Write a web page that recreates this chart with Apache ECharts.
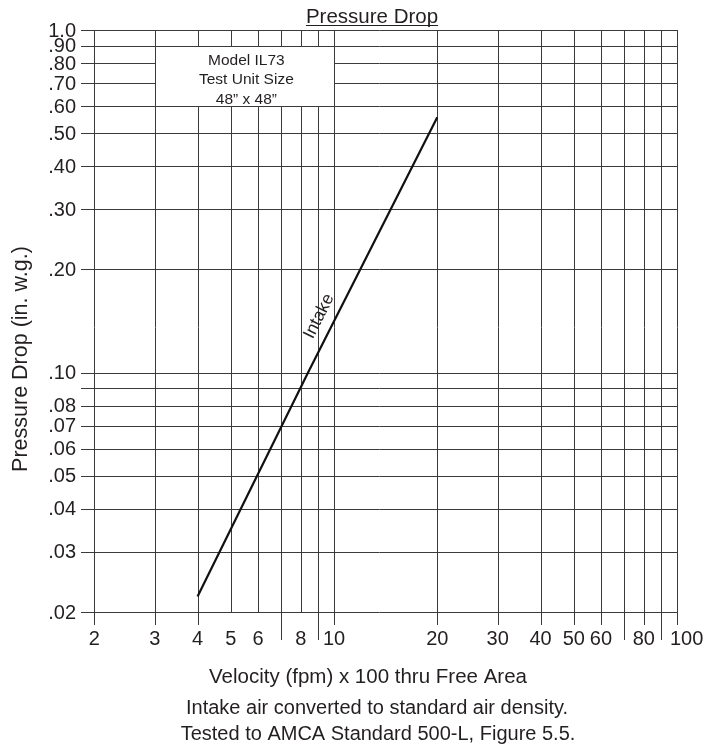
<!DOCTYPE html>
<html><head><meta charset="utf-8">
<script src="https://cdn.jsdelivr.net/npm/echarts@6/dist/echarts.min.js"></script>
<style>html,body{margin:0;padding:0;background:#fff}#c{width:705px;height:749px}</style>
</head><body><div id="c"></div>
<script>
// ---- data ----
const xMin = 1.829, xMax = 100;
const yMin = 0.02, yMax = 1.0;
const xGridValues = [2,3,4,5,6,7,8,9,10,20,30,40,50,60,70,80,90,100];
const xLabelValues = [2,3,4,5,6,8,10,20,30,40,50,60,80,100];
const xLongTicks = [7,9,70,90];
const xNoTicks = [5,6,8];
const yGridValues = [0.02,0.03,0.04,0.05,0.06,0.07,0.08,0.09,0.1,0.2,0.3,0.4,0.5,0.6,0.7,0.8,0.9,1.0];
const yLabelValues = [0.02,0.03,0.04,0.05,0.06,0.07,0.08,0.1,0.2,0.3,0.4,0.5,0.6,0.7,0.8,0.9,1.0];
const yLabelTexts  = ['.02','.03','.04','.05','.06','.07','.08','.10','.20','.30','.40','.50','.60','.70','.80','.90','1.0'];
const intakeVelocity = [4, 8.4, 20];
const intakePressure = [0.0222, 0.1, 0.556];
const intakeLabelAt = [9.05, 0.146];
const modelBoxX = [3, 10];
const modelBoxY = [0.6, 0.9];
const modelBoxLines = ['Model IL73', 'Test Unit Size', '48\u201D x 48\u201D'];
const titleText = 'Pressure Drop';
const xName = 'Velocity (fpm) x 100 thru Free Area';
const yName = 'Pressure Drop (in. w.g.)';
const notes = ['Intake air converted to standard air density.', 'Tested to AMCA Standard 500-L, Figure 5.5.'];

// ---- styles ----
const FONT = 'Liberation Sans, Arial, Helvetica, sans-serif';
const TXT = '#231f20';
const GRID = '#3a3a3a';

const chart = echarts.init(document.getElementById('c'), null, {renderer: 'canvas'});
const px = v => Math.round(v) + 0.5;

function xGridItem(params, api) {
  const v = api.value(0);
  const top = api.coord([v, yMax]);
  const bot = api.coord([v, yMin]);
  let ext = 13;
  if (xLongTicks.indexOf(v) >= 0) ext = 28;
  else if (xNoTicks.indexOf(v) >= 0) ext = 0;
  const x = px(top[0]);
  const children = [{
    type: 'line',
    shape: {x1: x, y1: Math.round(top[1]), x2: x, y2: Math.round(bot[1]) + ext},
    style: {stroke: GRID, lineWidth: 1}
  }];
  if (xLabelValues.indexOf(v) >= 0) {
    const last = v === xMax;
    children.push({
      type: 'text',
      style: {text: String(v), x: last ? top[0] - 7 : top[0], y: bot[1] + 27,
              align: last ? 'left' : 'center', verticalAlign: 'middle',
              fontSize: 20, fontFamily: FONT, fill: TXT}
    });
  }
  return {type: 'group', children};
}

function yGridItem(params, api) {
  const v = api.value(1);
  const l = api.coord([xMin, v]);
  const r = api.coord([xMax, v]);
  const y = px(l[1]);
  const children = [{
    type: 'line',
    shape: {x1: Math.round(l[0]), y1: y, x2: Math.round(r[0]) + 1, y2: y},
    style: {stroke: GRID, lineWidth: 1}
  }];
  const i = yLabelValues.indexOf(v);
  if (i >= 0) {
    children.push({
      type: 'text',
      style: {text: yLabelTexts[i], x: l[0] - 5, y: l[1] + 1, align: 'right', verticalAlign: 'middle',
              fontSize: 20, fontFamily: FONT, fill: TXT}
    });
  }
  return {type: 'group', children};
}

function boxItem(params, api) {
  const a = api.coord([modelBoxX[0], modelBoxY[1]]);
  const b = api.coord([modelBoxX[1], modelBoxY[0]]);
  const x0 = px(a[0]), y0 = px(a[1]), x1 = px(b[0]), y1 = px(b[1]);
  return {type: 'group', children: [
    {type: 'rect', shape: {x: x0, y: y0, width: x1 - x0, height: y1 - y0},
     style: {fill: '#fff', stroke: GRID, lineWidth: 1}},
    {type: 'text', style: {text: modelBoxLines.join('\n'), x: (a[0] + b[0]) / 2 + 2, y: (a[1] + b[1]) / 2 + 4,
      align: 'center', verticalAlign: 'middle', lineHeight: 19.5, fontSize: 15.5, fontFamily: FONT, fill: TXT}}
  ]};
}

function intakeLabelItem(params, api) {
  const p = api.coord([api.value(0), api.value(1)]);
  const p1 = api.coord([intakeVelocity[0], intakePressure[0]]);
  const p2 = api.coord([intakeVelocity[intakeVelocity.length - 1], intakePressure[intakePressure.length - 1]]);
  const ang = Math.atan2(-(p2[1] - p1[1]), p2[0] - p1[0]);
  return {type: 'text', x: p[0], y: p[1], rotation: ang,
    style: {text: 'Intake', x: 0, y: 0, align: 'center', verticalAlign: 'middle',
            fontSize: 17.5, fontFamily: FONT, fill: TXT}};
}

// measure title width for underline
const mctx = document.createElement('canvas').getContext('2d');
mctx.font = '20.5px ' + FONT;
const titleW = mctx.measureText(titleText).width;
const titleCX = 372;

chart.setOption({
  animation: false,
  backgroundColor: '#fff',
  grid: {left: 81, right: 28, top: 30, bottom: 137, containLabel: false},
  xAxis: {type: 'log', logBase: 10, min: xMin, max: xMax,
    axisLine: {show: false}, axisTick: {show: false}, axisLabel: {show: false}, splitLine: {show: false}},
  yAxis: {type: 'log', logBase: 10, min: yMin, max: yMax,
    axisLine: {show: false}, axisTick: {show: false}, axisLabel: {show: false}, splitLine: {show: false}},
  series: [
    {type: 'custom', name: 'xgrid', renderItem: xGridItem, z: 1, silent: true, clip: false,
     data: xGridValues.map(v => [v, yMin])},
    {type: 'custom', name: 'ygrid', renderItem: yGridItem, z: 1, silent: true, clip: false,
     data: yGridValues.map(v => [xMin, v])},
    {type: 'custom', name: 'box', renderItem: boxItem, z: 3, silent: true, clip: false,
     data: [[modelBoxX[0], modelBoxY[0]]]},
    {type: 'line', name: 'Intake', z: 4, silent: true, symbol: 'none',
     lineStyle: {color: '#111', width: 2.2},
     data: intakeVelocity.map((v, i) => [v, intakePressure[i]])},
    {type: 'custom', name: 'intakeLabel', renderItem: intakeLabelItem, z: 5, silent: true, clip: false,
     data: [intakeLabelAt]}
  ],
  graphic: [
    {type: 'text', x: titleCX, y: 17,
     style: {text: titleText, align: 'center', verticalAlign: 'middle', fontSize: 20.5, fontFamily: FONT, fill: TXT}},
    {type: 'line', shape: {x1: titleCX - titleW / 2, y1: 25.5, x2: titleCX + titleW / 2, y2: 25.5},
     style: {stroke: TXT, lineWidth: 1.2}},
    {type: 'text', x: 368, y: 677,
     style: {text: xName, align: 'center', verticalAlign: 'middle', fontSize: 20.5, fontFamily: FONT, fill: TXT}},
    {type: 'text', x: 21, y: 359, rotation: Math.PI / 2,
     style: {text: yName, align: 'center', verticalAlign: 'middle', fontSize: 21.5, fontFamily: FONT, fill: TXT}},
    {type: 'text', x: 377, y: 708,
     style: {text: notes[0], align: 'center', verticalAlign: 'middle', fontSize: 20, fontFamily: FONT, fill: TXT}},
    {type: 'text', x: 378, y: 734,
     style: {text: notes[1], align: 'center', verticalAlign: 'middle', fontSize: 20, fontFamily: FONT, fill: TXT}}
  ]
});
</script></body></html>
